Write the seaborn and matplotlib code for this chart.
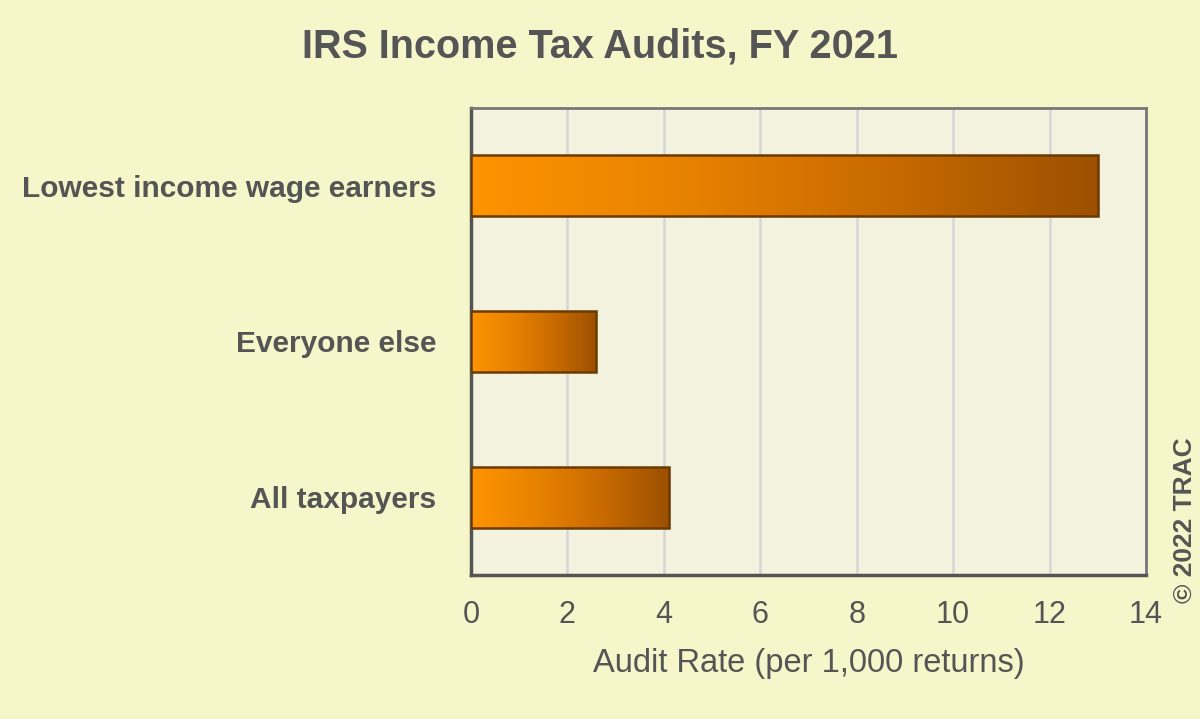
import numpy as np
import pandas as pd
import matplotlib
matplotlib.use('Agg')
import matplotlib.pyplot as plt
import seaborn as sb
from matplotlib.colors import LinearSegmentedColormap

# Chart values
categories = ['Lowest income wage earners', 'Everyone else', 'All taxpayers']
audit_rates = [13.0, 2.6, 4.1]
x_ticks = [0, 2, 4, 6, 8, 10, 12, 14]

df = pd.DataFrame({'group': categories, 'rate': audit_rates})

TEXT = '#555555'
sb.set_theme(style='white')
plt.rcParams['font.family'] = ['Liberation Sans', 'DejaVu Sans']

fig = plt.figure(figsize=(12, 7.19), dpi=100)
fig.patch.set_facecolor('#F5F6C9')
ax = fig.add_axes([0.3925, 0.2003, 0.5625, 0.6495])
ax.set_facecolor('#F2F2DF')

sb.barplot(data=df, x='rate', y='group', orient='h', width=0.39,
           color='#FF9400', edgecolor='#6B3A00', linewidth=1.8, ax=ax, zorder=3)

# horizontal orange -> brown gradient inside each bar
grad = LinearSegmentedColormap.from_list('bar', ['#FF9400', '#E88200', '#C86A00', '#9C5000'])
for patch in ax.patches:
    x0, y0 = patch.get_x(), patch.get_y()
    w, h = patch.get_width(), patch.get_height()
    img = ax.imshow(np.linspace(0, 1, 256).reshape(1, -1), cmap=grad, aspect='auto',
                    extent=[x0, x0 + w, y0 + h, y0], zorder=3.5, interpolation='bilinear')
    img.set_clip_path(patch)
    patch.set_facecolor('none')
    patch.set_zorder(4)

ax.set_xlim(0, 14)
ax.set_ylim(2.5, -0.5)
ax.set_xticks(x_ticks)
ax.set_xticklabels([str(t) for t in x_ticks], fontsize=22, color=TEXT)
ax.tick_params(axis='x', length=0, pad=18)
ax.tick_params(axis='y', length=0, pad=25)
for lab in ax.get_yticklabels():
    lab.set_fontsize(21.5)
    lab.set_fontweight('bold')
    lab.set_color(TEXT)

ax.grid(axis='x', color='#D6D6D6', linewidth=1.8, zorder=0)
ax.set_axisbelow(True)
for side in ['top', 'right']:
    ax.spines[side].set_color('#777777')
    ax.spines[side].set_linewidth(2)
for side in ['left', 'bottom']:
    ax.spines[side].set_color('#555555')
    ax.spines[side].set_linewidth(2.5)

ax.set_xlabel('Audit Rate (per 1,000 returns)', fontsize=23.5, color=TEXT, labelpad=13)
ax.set_ylabel('')

fig.text(0.5, 0.935, 'IRS Income Tax Audits, FY 2021', ha='center', va='center',
         fontsize=28.5, fontweight='bold', color=TEXT)
fig.text(0.9875, 0.277, '© 2022 TRAC', rotation=90, ha='center', va='center',
         fontsize=19, fontweight='bold', color=TEXT)

fig.savefig('out.png', dpi=100, facecolor=fig.get_facecolor())
